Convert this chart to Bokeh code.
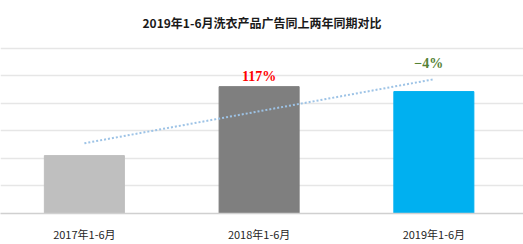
import numpy as np
from bokeh.plotting import figure
from bokeh.models import Range1d, FixedTicker, ColumnDataSource
from bokeh.core.properties import value
from bokeh.embed import file_html
from bokeh.resources import INLINE

# ---- data ----
categories = ["2017年1-6月", "2018年1-6月", "2019年1-6月"]
values = [2.1, 4.6, 4.42]
bar_colors = ["#BFBFBF", "#7F7F7F", "#00B0F0"]
growth_labels = ["", "117%", "−4%"]
growth_colors = ["#FF0000", "#FF0000", "#548235"]
title_text = "2019年1-6月洗衣产品广告同上两年同期对比"
grid_ticks = [0, 1, 2, 3, 4, 5, 6]

xs = list(range(1, len(categories) + 1))

p = figure(width=523, height=244, output_backend="svg", toolbar_location=None,
           x_range=Range1d(0.52, 3.513), y_range=Range1d(0, 6.2),
           min_border_left=0, min_border_right=0, min_border_top=0, min_border_bottom=28)
p.outline_line_color = None
p.background_fill_color = "white"
p.border_fill_color = "white"

p.title.text = title_text
p.title.align = "center"
p.title.text_font = "Noto Sans CJK SC"
p.title.text_font_size = "12px"
p.title.text_font_style = "bold"
p.title.text_color = "#1a1a1a"
p.title.standoff = 23
p.title.text_line_height = 1.0

src = ColumnDataSource(dict(x=xs, top=values, color=bar_colors, cat=categories))
p.vbar(x="x", top="top", width=0.458, color="color", source=src)

# linear trend line (from the bar values)
coef = np.polyfit(xs, values, 1)
tx = [xs[0], xs[-1]]
ty = [coef[0] * v + coef[1] for v in tx]
p.line(tx, ty, line_color="#9DC3E6", line_width=2, line_dash="2 2")

# growth labels
offsets_y = [0, -3, -21]
offsets_x = [0, 0, -5]
for i in range(len(xs)):
    if growth_labels[i]:
        p.text(x=[xs[i]], y=[values[i]], text=[growth_labels[i]],
               text_color=growth_colors[i], text_font_size="14px",
               text_font_style="bold", text_align="center", text_baseline="bottom",
               x_offset=offsets_x[i], y_offset=offsets_y[i],
               text_font=value("Liberation Serif"))

# axes
p.yaxis.visible = False
p.xaxis.ticker = FixedTicker(ticks=xs)
p.xaxis.major_label_overrides = {x: c for x, c in zip(xs, categories)}
p.xaxis.major_tick_line_color = None
p.xaxis.minor_tick_line_color = None
p.xaxis.axis_line_color = "#D0D0D0"
p.xaxis.axis_line_width = 1.5
p.xaxis.major_label_text_font = "Noto Sans CJK SC"
p.xaxis.major_label_text_font_size = "11px"
p.xaxis.major_label_text_color = "#262626"
p.xaxis.major_label_standoff = 6

p.xgrid.visible = False
p.ygrid.ticker = FixedTicker(ticks=grid_ticks)
p.ygrid.grid_line_color = "#E6E6E6"
p.ygrid.grid_line_width = 1.5

open("out.html", "w").write(file_html(p, INLINE))
